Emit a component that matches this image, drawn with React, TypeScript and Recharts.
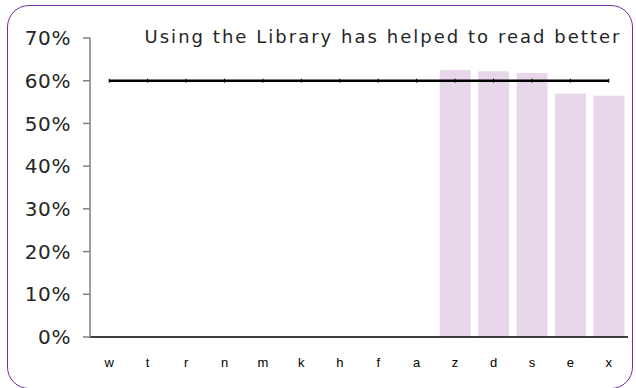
import React from "react";
import { ComposedChart, Bar, Line, XAxis, YAxis } from "recharts";

const categories = ["w", "t", "r", "n", "m", "k", "h", "f", "a", "z", "d", "s", "e", "x"];
const barValues: (number | null)[] = [null, null, null, null, null, null, null, null, null, 0.625, 0.622, 0.618, 0.57, 0.565];
const targetValues = [0.6, 0.6, 0.6, 0.6, 0.6, 0.6, 0.6, 0.6, 0.6, 0.6, 0.6, 0.6, 0.6, 0.6];
const yTicks = [0, 0.1, 0.2, 0.3, 0.4, 0.5, 0.6, 0.7];
const title = "Using the Library has helped to read better";

const data = categories.map((c, i) => ({ cat: c, value: barValues[i], target: targetValues[i] }));

const TickDot = (props: any) => {
  const { cx, cy } = props;
  if (cx == null || cy == null) return null;
  return <line x1={cx} x2={cx} y1={cy - 2} y2={cy + 2} stroke="#000" strokeWidth={1} />;
};

export default function App() {
  return (
    <div style={{ position: "fixed", left: 0, top: 0, width: 636, height: 388, background: "#fff", overflow: "hidden" }}>
      <div
        style={{
          position: "absolute",
          left: 7,
          top: 5,
          width: 626,
          height: 384,
          border: "1.5px solid #7030A0",
          borderRadius: 22,
          boxSizing: "border-box",
        }}
      />
      <ComposedChart
        width={636}
        height={388}
        data={data}
        margin={{ top: 38, right: 8, bottom: 21, left: 0 }}
        barCategoryGap="10%"
        style={{ position: "absolute", left: 0, top: 0 }}
      >
        <text
          x={382}
          y={43}
          textAnchor="middle"
          fontFamily="DejaVu Sans"
          fontSize={18}
          fill="#262626"
          textLength={475}
          lengthAdjust="spacing"
        >
          {title}
        </text>
        <XAxis
          dataKey="cat"
          axisLine={{ stroke: "#000", strokeWidth: 1.5 }}
          tickLine={false}
          tickSize={0}
          tickMargin={21}
          tick={{ fill: "#000", fontSize: 13, fontFamily: "Liberation Sans" }}
          interval={0}
        />
        <YAxis
          domain={[0, 0.7]}
          ticks={yTicks}
          width={90}
          axisLine={{ stroke: "#7f7f7f", strokeWidth: 1.5 }}
          tickLine={{ stroke: "#7f7f7f", strokeWidth: 1.5 }}
          tickSize={7}
          tickMargin={12}
          tickFormatter={(v: number) => `${Math.round(v * 100)}%`}
          tick={{ fill: "#262626", fontSize: 20, fontFamily: "DejaVu Sans", letterSpacing: 0.6 }}
          allowDataOverflow
        />
        <Bar dataKey="value" fill="#E8D7EB" isAnimationActive={false} />
        <Line
          dataKey="target"
          stroke="#000"
          strokeWidth={2.5}
          dot={<TickDot />}
          activeDot={false}
          isAnimationActive={false}
        />
      </ComposedChart>
    </div>
  );
}
